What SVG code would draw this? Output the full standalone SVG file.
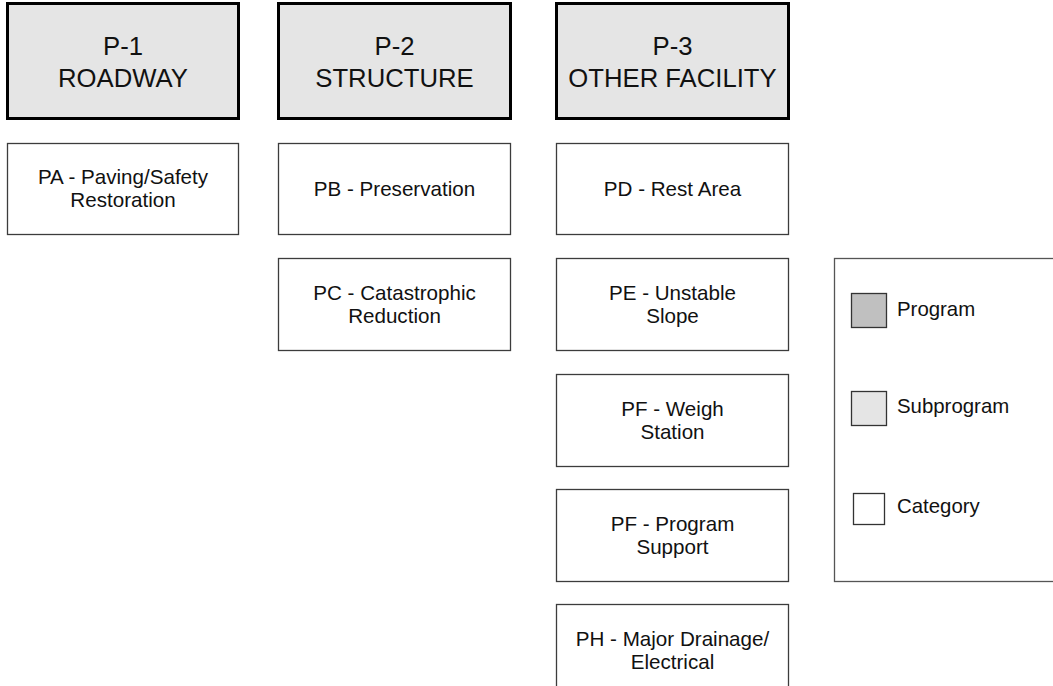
<svg xmlns="http://www.w3.org/2000/svg" width="1053" height="686" viewBox="0 0 1053 686">
<style>
.sub{fill:#e5e5e5;stroke:#000;stroke-width:3}
.cat{fill:#fff;stroke:#3c3c3c;stroke-width:1.3}
.t{font-family:"Liberation Sans",Arial,sans-serif;fill:#111;text-anchor:middle}
.big{font-size:25.7px}
.sm{font-size:20.6px}
.lg{font-family:"Liberation Sans",Arial,sans-serif;fill:#111;font-size:20.4px}
</style>
<rect width="1053" height="686" fill="#fff"/>
<g id="connectors"></g>
<g id="p1"><rect class="sub" x="7.5" y="3.5" width="231" height="115"/><text class="t big" x="123" y="55">P-1</text><text class="t big" x="123" y="87">ROADWAY</text></g>
<g id="p2"><rect class="sub" x="278.5" y="3.5" width="232" height="115"/><text class="t big" x="394.5" y="55">P-2</text><text class="t big" x="394.5" y="87">STRUCTURE</text></g>
<g id="p3"><rect class="sub" x="556.5" y="3.5" width="232" height="115"/><text class="t big" x="672.5" y="55">P-3</text><text class="t big" x="672.5" y="87">OTHER FACILITY</text></g>
<g id="pa"><rect class="cat" x="7.5" y="143.5" width="231" height="91"/><text class="t sm" x="123" y="184">PA - Paving/Safety</text><text class="t sm" x="123" y="207">Restoration</text></g>
<g id="pb"><rect class="cat" x="278.5" y="143.5" width="232" height="91"/><text class="t sm" x="394.5" y="196">PB - Preservation</text></g>
<g id="pc"><rect class="cat" x="278.5" y="258.5" width="232" height="92"/><text class="t sm" x="394.5" y="300">PC - Catastrophic</text><text class="t sm" x="394.5" y="323">Reduction</text></g>
<g id="pd"><rect class="cat" x="556.5" y="143.5" width="232" height="91"/><text class="t sm" x="672.5" y="196">PD - Rest Area</text></g>
<g id="pe"><rect class="cat" x="556.5" y="258.5" width="232" height="92"/><text class="t sm" x="672.5" y="300">PE - Unstable</text><text class="t sm" x="672.5" y="323">Slope</text></g>
<g id="pf"><rect class="cat" x="556.5" y="374.5" width="232" height="92"/><text class="t sm" x="672.5" y="416">PF - Weigh</text><text class="t sm" x="672.5" y="439">Station</text></g>
<g id="pg"><rect class="cat" x="556.5" y="489.5" width="232" height="92"/><text class="t sm" x="672.5" y="531">PF - Program</text><text class="t sm" x="672.5" y="554">Support</text></g>
<g id="ph"><rect class="cat" x="556.5" y="604.5" width="232" height="92"/><text class="t sm" x="672.5" y="646">PH - Major Drainage/</text><text class="t sm" x="672.5" y="669">Electrical</text></g>
<g id="legend">
<rect x="834.5" y="258.5" width="230" height="323" fill="#fff" stroke="#555" stroke-width="1.3"/>
<rect x="851.5" y="293.5" width="35" height="34" fill="#c0c0c0" stroke="#333" stroke-width="1.3"/>
<text class="lg" x="897" y="316">Program</text>
<rect x="851.5" y="391.5" width="35" height="34" fill="#e5e5e5" stroke="#333" stroke-width="1.3"/>
<text class="lg" x="897" y="413">Subprogram</text>
<rect x="853.5" y="493.5" width="31" height="31" fill="#fff" stroke="#333" stroke-width="1.3"/>
<text class="lg" x="897" y="513">Category</text>
</g>
</svg>
